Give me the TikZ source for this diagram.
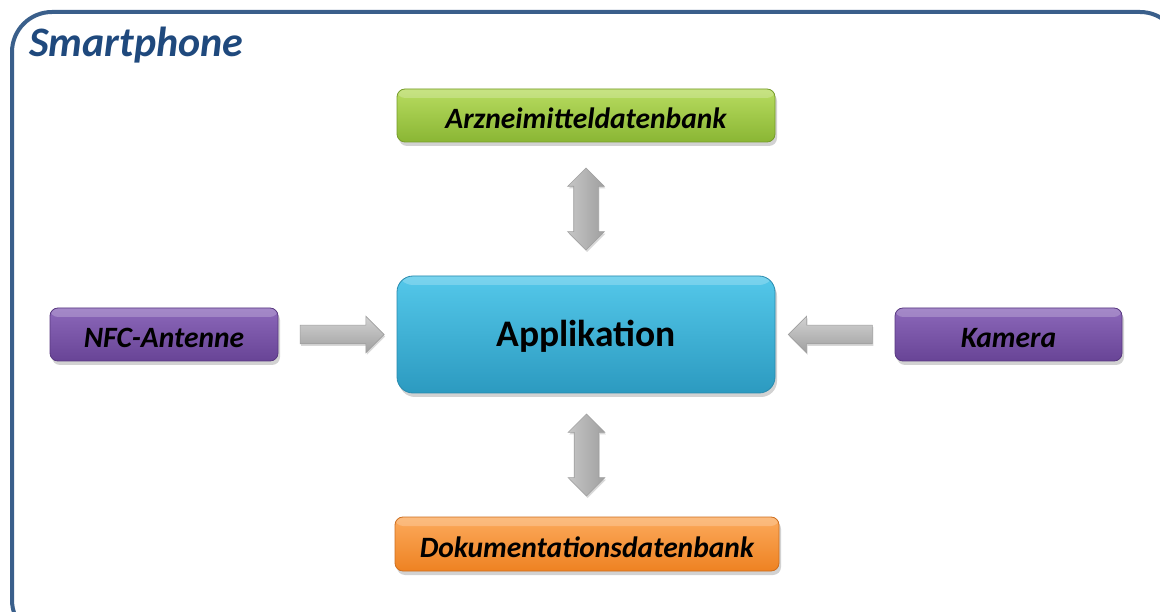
\documentclass[tikz,border=0pt]{standalone}
\usepackage{fontspec}
\setmainfont{Carlito}
\usetikzlibrary{positioning,calc,shapes.arrows,shadows}
\definecolor{frameblue}{RGB}{58,95,139}
\definecolor{titleblue}{RGB}{31,73,125}
\definecolor{greentop}{RGB}{184,220,96}
\definecolor{greenbot}{RGB}{138,182,52}
\definecolor{greenline}{RGB}{118,156,42}
\definecolor{cyantop}{RGB}{84,200,234}
\definecolor{cyanbot}{RGB}{44,154,192}
\definecolor{cyanline}{RGB}{40,138,174}
\definecolor{purpletop}{RGB}{140,104,186}
\definecolor{purplebot}{RGB}{104,68,150}
\definecolor{purpleline}{RGB}{88,56,128}
\definecolor{orangetop}{RGB}{252,170,92}
\definecolor{orangebot}{RGB}{238,130,34}
\definecolor{orangeline}{RGB}{206,110,30}
\tikzstyle{every node}=[inner sep=0pt]
\tikzstyle{box} = [rounded corners=8pt,line width=0.8pt,drop shadow={opacity=0.35,shadow xshift=2pt,shadow yshift=-4pt},font=\fontsize{29.5}{32}\selectfont\bfseries\itshape,text height=27pt,text depth=0pt,
  path picture={\fill[white,opacity=0.22] ($(path picture bounding box.north west)+(0,0)$) rectangle ($(path picture bounding box.north east)+(0,9)$);}]
\tikzstyle{greenbox} = [box,draw=greenline,top color=greentop,bottom color=greenbot,minimum width=378pt,minimum height=53pt]
\tikzstyle{orangebox} = [box,draw=orangeline,top color=orangetop,bottom color=orangebot,minimum width=384pt,minimum height=54pt]
\tikzstyle{purplebox} = [box,draw=purpleline,top color=purpletop,bottom color=purplebot,minimum width=228pt,minimum height=53pt]
\tikzstyle{appbox} = [box,rounded corners=16pt,draw=cyanline,top color=cyantop,bottom color=cyanbot,minimum width=378pt,minimum height=117pt,text height=30pt,text depth=5pt,font=\fontsize{37.5}{40}\selectfont\bfseries]
\tikzstyle{blockarrow} = [single arrow,draw=gray!75,line width=0.6pt,top color=gray!35,bottom color=gray!75,inner sep=9pt,text height=0pt,text depth=0pt,minimum height=84pt,single arrow head extend=9pt,drop shadow={opacity=0.3,shadow xshift=1pt,shadow yshift=-2pt}]
\tikzstyle{dblarrow} = [double arrow,draw=gray!75,line width=0.6pt,left color=gray!45,right color=gray!75,inner sep=12pt,text height=0pt,text depth=0pt,minimum height=82pt,double arrow head extend=6pt,shape border rotate=90,drop shadow={opacity=0.3,shadow xshift=1pt,shadow yshift=-2pt}]

\begin{document}
\begin{tikzpicture}[x=1pt,y=-1pt]
\clip (0,0) rectangle (1160,612);
\fill[white] (0,0) rectangle (1160,612);
\draw[frameblue,line width=4pt,rounded corners=40pt] (12,12) rectangle (1180,640);
\node[anchor=base west,text=titleblue,font=\fontsize{42}{46}\selectfont\bfseries\itshape] (title) at (29,57) {Smartphone};

\node[appbox] (app) at (586,334.5) {Applikation};
\node[greenbox] (arz) at (586,115.5) {Arzneimitteldatenbank};
\node[orangebox] (dok) at (587,544) {Dokumentationsdatenbank};
\node[purplebox] (nfc) at (164,334.5) {NFC-Antenne};
\node[purplebox,minimum width=227pt] (kam) at (1008.5,334.5) {Kamera};

\node[blockarrow] (a1) at ($(nfc.east)!0.5!(app.west)$) {};
\node[blockarrow,shape border rotate=180] (a2) at ($(kam.west)!0.5!(app.east)$) {};
\node[dblarrow] (a3) at ($(arz.south)!0.5!(app.north)$) {};
\node[dblarrow] (a4) at ($(app.south)!0.5!(dok.north)$) {};
\end{tikzpicture}
\end{document}
